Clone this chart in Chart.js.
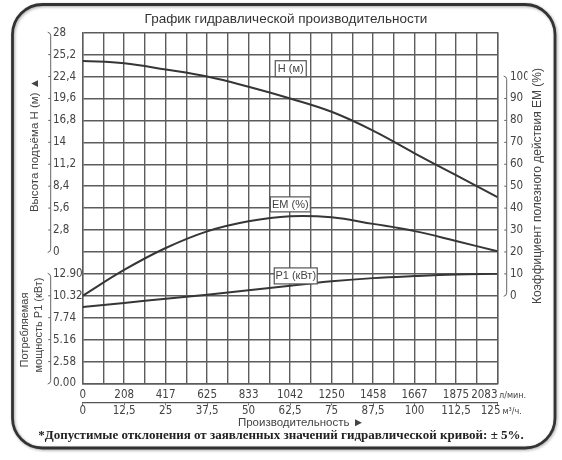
<!DOCTYPE html>
<html><head><meta charset="utf-8">
<script src="https://cdn.jsdelivr.net/npm/chart.js@4/dist/chart.umd.min.js"></script>
<style>html,body{margin:0;padding:0;background:#fff}#wrap{width:562px;height:460px;position:relative}</style>
</head><body><div id="wrap"><canvas id="c" width="562" height="460"></canvas></div>
<script>
// ---- data ----
const flowLpm = [0, 208, 417, 625, 833, 1042, 1250, 1458, 1667, 1875, 2083];
const flowM3h = ['0', '12,5', '25', '37,5', '50', '62,5', '75', '87,5', '100', '112,5', '125'];
const headM   = [24.4, 24.1, 23.3, 22.4, 21.1, 19.6, 17.9, 15.5, 12.6, 9.8, 7.0];
const effPct  = [0, 11.8, 21.8, 29.4, 34.0, 36.3, 35.8, 32.8, 29.5, 25.0, 20.3];
const powerKw = [9.0, 9.47, 9.98, 10.45, 10.96, 11.5, 12.02, 12.4, 12.64, 12.82, 12.9];
const headTicks  = ['0', '2,8', '5,6', '8,4', '11,2', '14', '16,8', '19,6', '22,4', '25,2', '28'];
const powerTicks = ['0.00', '2.58', '5.16', '7.74', '10.32', '12.90'];
const effTicks   = ['0', '10', '20', '30', '40', '50', '60', '70', '80', '90', '100'];

const headStep = 2.8, powerStep = 2.58, effStep = 10;
const rows = 16, headZeroRow = 6, effZeroRow = 4, cols = 20;
const qMax = 2083.33, m3Max = 125;

const NARROW = "'Liberation Sans Narrow', 'DejaVu Sans Condensed', 'Liberation Sans', sans-serif";
const SANS = "'Liberation Sans', Arial, sans-serif";
const GRID = '#5c5c5c';
const TXT = '#444';
const LINE = '#363636';

function pts(ys){ return flowLpm.map((q,i)=>({x:q, y:ys[i]})); }
function evenTicks(min, max, n){ const a=[]; for(let i=0;i<=n;i++) a.push({value:min+(max-min)*i/n}); return a; }

const deco = {
  id:'deco',
  beforeDraw(chart){
    const ctx = chart.ctx;
    ctx.save();
    ctx.fillStyle='#fff'; ctx.fillRect(0,0,chart.width,chart.height);
    ctx.restore();
  },
  afterDatasetsDraw(chart){
    const ctx = chart.ctx, s = chart.scales;
    const box = (txt, q, y, scale, w, h) => {
      const cx = s.x.getPixelForValue(q), cy = s[scale].getPixelForValue(y);
      ctx.save();
      ctx.fillStyle='#fff'; ctx.strokeStyle='#555'; ctx.lineWidth=1.2;
      ctx.fillRect(cx-w/2, cy-h/2, w, h); ctx.strokeRect(cx-w/2, cy-h/2, w, h);
      ctx.fillStyle=TXT; ctx.font='11px '+SANS; ctx.textAlign='center'; ctx.textBaseline='middle';
      ctx.fillText(txt, cx, cy+0.5);
      ctx.restore();
    };
    box('H (м)', 1045, 23.4, 'yH', 31, 16);
    box('EM (%)', 1043, 41.7, 'yEM', 40, 15);
    box('P1 (кВт)', 1070, 12.66, 'yP', 43, 16);
  },
  afterDraw(chart){
    const ctx = chart.ctx, s = chart.scales;
    ctx.save();
    // frame
    ctx.shadowColor='rgba(0,0,0,0.35)'; ctx.shadowBlur=3; ctx.shadowOffsetX=1; ctx.shadowOffsetY=1;
    ctx.strokeStyle='#333'; ctx.lineWidth=2.8;
    ctx.beginPath(); ctx.roundRect(12.5, 4.5, 542.5, 443.5, 30); ctx.stroke();
    ctx.restore();

    ctx.save();
    ctx.fillStyle='#333'; ctx.textAlign='center'; ctx.textBaseline='middle';
    ctx.font='13.5px '+SANS;
    ctx.fillText('График гидравлической производительности', 286, 19);
    ctx.font='11.5px '+SANS; ctx.fillStyle=TXT;
    ctx.fillText('Производительность ►', 301, 423);
    ctx.font='bold 13px "Liberation Serif", "Times New Roman", serif'; ctx.fillStyle='#222';
    ctx.fillText('*Допустимые отклонения от заявленных значений гидравлической кривой: ± 5%.', 281, 436);

    // rotated titles
    const vtext = (t, x, y, font) => { ctx.save(); ctx.translate(x,y); ctx.rotate(-Math.PI/2); ctx.font=font; ctx.fillText(t,0,0); ctx.restore(); };
    ctx.fillStyle=TXT;
    vtext('Высота подъёма H (м) ▲', 35, 145, '11.5px '+SANS);
    vtext('Потребляемая', 25, 330, '11px '+SANS);
    vtext('мощность P1 (кВт)', 39, 325, '11px '+SANS);
    vtext('Коэффициент полезного действия EM (%)', 538, 186, '12px '+SANS);

    // last tick labels with units
    const xr = s.x.getPixelForValue(qMax);
    ctx.textBaseline='middle';
    ctx.font='11.5px '+NARROW; ctx.textAlign='right';
    ctx.fillText(String(flowLpm[flowLpm.length-1]), xr, 395);
    ctx.fillText(flowM3h[flowM3h.length-1], xr+3, 411);
    ctx.font='9px '+NARROW; ctx.textAlign='left';
    ctx.fillText('л/мин.', xr+1.5, 395.5);
    ctx.fillText('м³/ч.', xr+5, 411.5);

    // brackets
    ctx.strokeStyle='#666'; ctx.lineWidth=1;
    const bracket = (x, y1, y2, stubs) => {
      ctx.beginPath();
      ctx.moveTo(x-3, y1-0.5); ctx.quadraticCurveTo(x, y1, x, y1+3);
      ctx.lineTo(x, y2-3); ctx.quadraticCurveTo(x, y2, x-3, y2+0.5);
      stubs.forEach(y=>{ ctx.moveTo(x-2.5, y); ctx.lineTo(x, y); });
      ctx.stroke();
    };
    const hs = headTicks.map((t,i)=>s.yH.getPixelForValue(i*headStep));
    bracket(50.7, hs[hs.length-1], hs[0], hs.slice(1,-1));
    const ps = powerTicks.map((t,i)=>s.yP.getPixelForValue(i*powerStep));
    bracket(50.7, ps[ps.length-1], ps[0], ps.slice(1,-1));
    const es = effTicks.map((t,i)=>s.yEM.getPixelForValue(i*effStep));
    bracket(506.7, es[es.length-1], es[0], es.slice(1,-1));
    ctx.restore();
  }
};

const tickFont = {family: NARROW, size: 11.5};
const lineStyle = {borderColor:LINE, borderWidth:2, pointRadius:0, tension:0.4, fill:false};
new Chart(document.getElementById('c'), {
  type:'line',
  data:{ datasets:[
    Object.assign({label:'H (м)', data:pts(headM), yAxisID:'yH', xAxisID:'x'}, lineStyle),
    Object.assign({label:'EM (%)', data:pts(effPct), yAxisID:'yEM', xAxisID:'x'}, lineStyle),
    Object.assign({label:'P1 (кВт)', data:pts(powerKw), yAxisID:'yP', xAxisID:'x'}, lineStyle)
  ]},
  options:{
    responsive:false, animation:false, devicePixelRatio:1,
    layout:{padding:{left:53, top:32.7, right:34.5, bottom:37.7}},
    plugins:{legend:{display:false}, tooltip:{enabled:false}},
    scales:{
      x:{type:'linear', position:'bottom', min:0, max:qMax,
        afterBuildTicks:sc=>{sc.ticks=evenTicks(0,qMax,cols);},
        ticks:{autoSkip:false, maxRotation:0, padding:4.6, color:TXT, font:tickFont,
          callback:(v,i)=> (i%2===0 && i<cols) ? String(flowLpm[i/2]) : ''},
        grid:{color:GRID, lineWidth:1.4, drawTicks:false},
        border:{color:GRID, width:1.4},
        afterFit:sc=>{sc.height=18.8;}},
      x2:{type:'linear', position:'bottom', min:0, max:m3Max,
        afterBuildTicks:sc=>{sc.ticks=evenTicks(0,m3Max,10);},
        ticks:{autoSkip:false, maxRotation:0, padding:0, color:TXT, font:{family:NARROW,size:11.5,lineHeight:1},
          callback:(v,i)=> i<10 ? flowM3h[i] : ''},
        grid:{drawOnChartArea:false, drawTicks:true, tickLength:3, color:'#666', lineWidth:1},
        border:{color:'#555', width:1.3},
        afterFit:sc=>{sc.height=20;}},
      yL:{type:'linear', position:'left', min:0, max:rows,
        afterBuildTicks:sc=>{sc.ticks=evenTicks(0,rows,rows);},
        ticks:{autoSkip:false, crossAlign:'far', padding:0, color:TXT, font:tickFont,
          callback:(v,i)=> i>=headZeroRow ? headTicks[i-headZeroRow] : (i<powerTicks.length ? powerTicks[i] : '')},
        grid:{color:GRID, lineWidth:1.4, drawTicks:false},
        border:{color:GRID, width:1.4},
        afterFit:sc=>{sc.width=29.7;}},
      yH:{type:'linear', display:false, min:-headZeroRow*headStep, max:(rows-headZeroRow)*headStep},
      yP:{type:'linear', display:false, min:0, max:rows*powerStep},
      yEM:{type:'linear', position:'right', min:-effZeroRow*effStep, max:(rows-effZeroRow)*effStep,
        afterBuildTicks:sc=>{sc.ticks=evenTicks(sc.min,sc.max,rows);},
        ticks:{autoSkip:false, padding:12.5, color:TXT, font:tickFont,
          callback:(v,i)=> (i>=effZeroRow && i-effZeroRow<effTicks.length) ? effTicks[i-effZeroRow] : ''},
        grid:{drawOnChartArea:false, drawTicks:false},
        border:{color:GRID, width:1.4},
        afterFit:sc=>{sc.width=30;}}
    }
  },
  plugins:[deco]
});
</script></body></html>
